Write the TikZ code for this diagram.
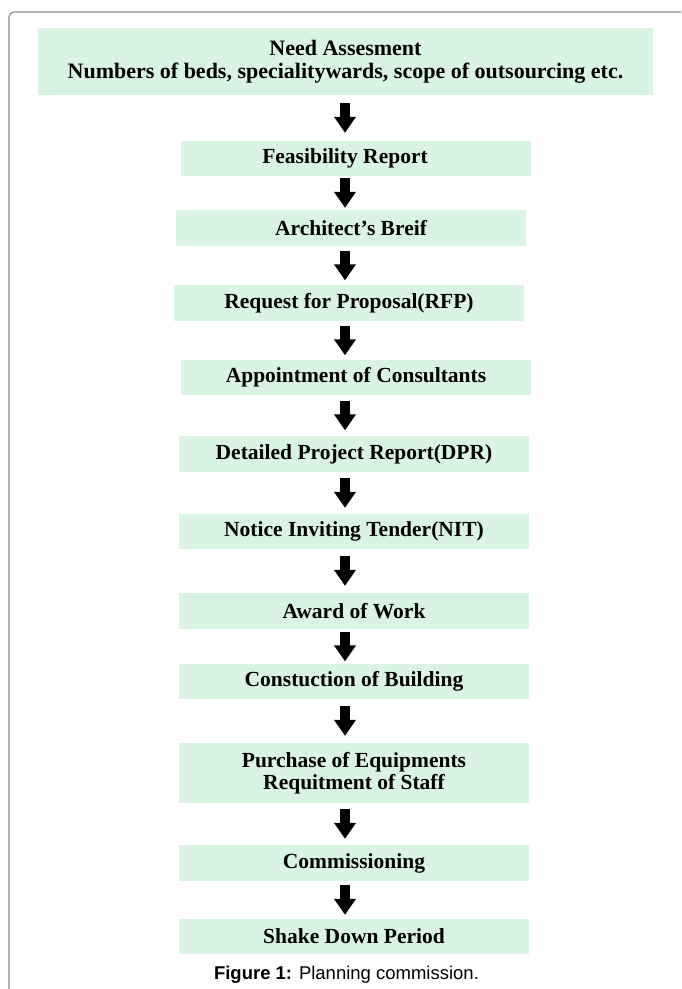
\documentclass[tikz,border=0pt]{standalone}
\usepackage{fontspec}
\setmainfont{Liberation Serif}
\newfontfamily\capfont{Liberation Sans}
\usetikzlibrary{arrows.meta}
\definecolor{boxfill}{HTML}{DAF4E4}
\definecolor{framegray}{HTML}{8C8C8C}
\begin{document}
\begin{tikzpicture}[x=1pt,y=-1pt,
  stepbox/.style={fill=boxfill, draw=none, inner sep=0pt, align=center,
    font=\bfseries\fontsize{21.5}{21}\selectfont},
  bigarrow/.style={line width=10pt, -{Triangle[width=21pt,length=16pt]}},
  gapshort/.style={shorten <=#1pt, shorten >=#1pt}]
\useasboundingbox (0,0) rectangle (681,989);
\draw[framegray, line width=1.2pt] (9,989) -- (9,17) arc[start angle=180,end angle=270,radius=5] -- (681,12);

\node[stepbox, minimum width=615pt, minimum height=67pt, font=\bfseries\fontsize{22}{23}\selectfont] (b1) at (345.5,61.5)
  {Need Assesment\\Numbers of beds, specialitywards, scope of outsourcing etc.};
\node[stepbox, minimum width=350pt, minimum height=35pt] (b2) at (356,158.5) {\hbox{Feasibility Report\kern22pt}};
\node[stepbox, minimum width=350pt, minimum height=36pt] (b3) at (351,228) {Architect's Breif};
\node[stepbox, minimum width=350pt, minimum height=36pt] (b4) at (349,303) {Request for Proposal(RFP)};
\node[stepbox, minimum width=350pt, minimum height=35pt] (b5) at (356,377.5) {Appointment of Consultants};
\node[stepbox, minimum width=350pt, minimum height=36pt] (b6) at (354,454) {Detailed Project Report(DPR)};
\node[stepbox, minimum width=350pt, minimum height=35pt] (b7) at (354,531.5) {Notice Inviting Tender(NIT)};
\node[stepbox, minimum width=350pt, minimum height=36pt] (b8) at (354,611) {Award of Work};
\node[stepbox, minimum width=350pt, minimum height=35pt] (b9) at (354,681.5) {Constuction of Building};
\node[stepbox, minimum width=350pt, minimum height=60pt, font=\bfseries\fontsize{21.5}{22.5}\selectfont] (b10) at (354,773) {Purchase of Equipments\\Requitment of Staff};
\node[stepbox, minimum width=350pt, minimum height=36pt] (b11) at (354,863) {Commissioning};
\node[stepbox, minimum width=350pt, minimum height=35pt] (b12) at (354,936.5) {Shake Down Period};

\coordinate (ax) at (345,0);
\draw[bigarrow, gapshort=8]   (b1.south -| ax) -- (b2.north -| ax);
\draw[bigarrow, gapshort=2]   (b2.south -| ax) -- (b3.north -| ax);
\draw[bigarrow, gapshort=4.5] (b3.south -| ax) -- (b4.north -| ax);
\draw[bigarrow, gapshort=4.5] (b4.south -| ax) -- (b5.north -| ax);
\draw[bigarrow, gapshort=5.5] (b5.south -| ax) -- (b6.north -| ax);
\draw[bigarrow, gapshort=6]   (b6.south -| ax) -- (b7.north -| ax);
\draw[bigarrow, gapshort=7]   (b7.south -| ax) -- (b8.north -| ax);
\draw[bigarrow, gapshort=2.5] (b8.south -| ax) -- (b9.north -| ax);
\draw[bigarrow, gapshort=7]   (b9.south -| ax) -- (b10.north -| ax);
\draw[bigarrow, gapshort=6]   (b10.south -| ax) -- (b11.north -| ax);
\draw[bigarrow, gapshort=4]   (b11.south -| ax) -- (b12.north -| ax);

\node[font=\capfont\fontsize{18.5}{20}\selectfont, anchor=base] (cap) at (346.5,979)
  {\textbf{Figure 1:} Planning commission.};
\end{tikzpicture}
\end{document}
